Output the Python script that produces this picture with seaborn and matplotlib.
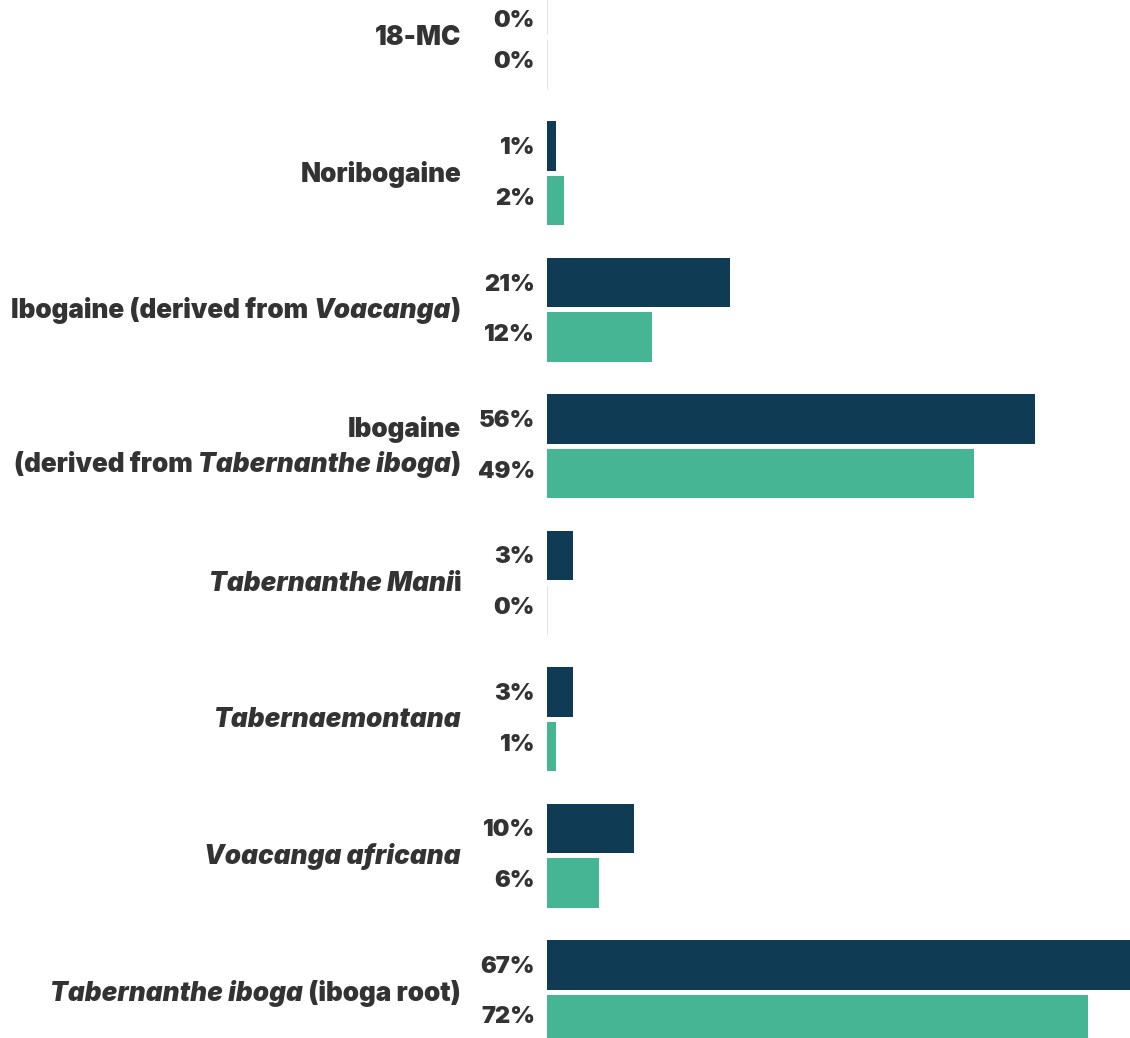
import pandas as pd
import matplotlib
matplotlib.use("Agg")
import matplotlib.pyplot as plt
import seaborn as sns

# categories (top to bottom) and the two series
categories = ["18-MC", "Noribogaine", "Ibogaine (Voacanga)", "Ibogaine (Tabernanthe iboga)",
              "Tabernanthe Manii", "Tabernaemontana", "Voacanga africana",
              "Tabernanthe iboga (iboga root)"]
series = ["dark", "green"]
dark_bars = [0, 1, 21, 56, 3, 3, 10, 67]
green_bars = [0, 2, 12, 49, 0, 1, 6, 62]
dark_labels = ["0%", "1%", "21%", "56%", "3%", "3%", "10%", "67%"]
green_labels = ["0%", "2%", "12%", "49%", "0%", "1%", "6%", "72%"]

# label text pieces per category: (text, italic) per line
label_lines = [
    [[("18-MC", False)]],
    [[("Noribogaine", False)]],
    [[("Ibogaine (derived from ", False), ("Voacanga", True), (")", False)]],
    [[("Ibogaine", False)],
     [("(derived from ", False), ("Tabernanthe iboga", True), (")", False)]],
    [[("Tabernanthe Mani", True), ("i", False)]],
    [[("Tabernaemontana", True)]],
    [[("Voacanga africana", True)]],
    [[("Tabernanthe iboga", True), (" (iboga root)", False)]],
]

colors = {"dark": "#0f3c54", "green": "#46b594"}
text_color = "#333333"

df = pd.DataFrame({
    "category": categories * 2,
    "series": ["dark"] * len(categories) + ["green"] * len(categories),
    "value": dark_bars + green_bars,
})

W, H = 1130, 1038
fig = plt.figure(figsize=(W / 100, H / 100), dpi=100)
ax = fig.add_axes([547 / W, 0, 583 / W, 1])

sns.barplot(data=df, y="category", x="value", hue="series", palette=colors,
            order=categories, hue_order=series, orient="h", width=0.8, gap=0.09,
            legend=False, ax=ax, saturation=1)

px_per_pct = 8.72
ax.set_xlim(0, 583 / px_per_pct)
ax.set_ylim(7 + (H - 992) / 137, -37 / 137)
ax.axis("off")

# hairline for empty bars
for p in ax.patches:
    if p.get_width() == 0:
        p.set_edgecolor("#e3e3e3")
        p.set_linewidth(0.8)

font = dict(family="Inter", fontweight=900, color=text_color)

# percentage labels (nudged slightly toward the pair's centre)
for k, (cont, labs) in enumerate(zip(ax.containers, [dark_labels, green_labels])):
    for bar, lab in zip(cont, labs):
        yc = bar.get_y() + bar.get_height() / 2
        ydisp = ax.transData.transform((0, yc))[1] + (-2 if k == 0 else 2)
        ydisp = min(ydisp, H - 21)
        fig.text(535 / W, ydisp / H, lab, ha="right", va="center", fontsize=17, **font)

# category labels with mixed italic pieces
renderer = fig.canvas.get_renderer()
for i, lines in enumerate(label_lines):
    yc = ax.transData.transform((0, i))[1]
    n = len(lines)
    for j, pieces in enumerate(lines):
        y = yc + (n - 1) * 17.5 - j * 35 - 1
        x = 461
        for text, italic in reversed(pieces):
            t = fig.text(x / W, y / H, text, ha="right", va="center", fontsize=18.8,
                         fontstyle="italic" if italic else "normal", **font)
            x = t.get_window_extent(renderer).x0

fig.savefig("out.png", dpi=100)
